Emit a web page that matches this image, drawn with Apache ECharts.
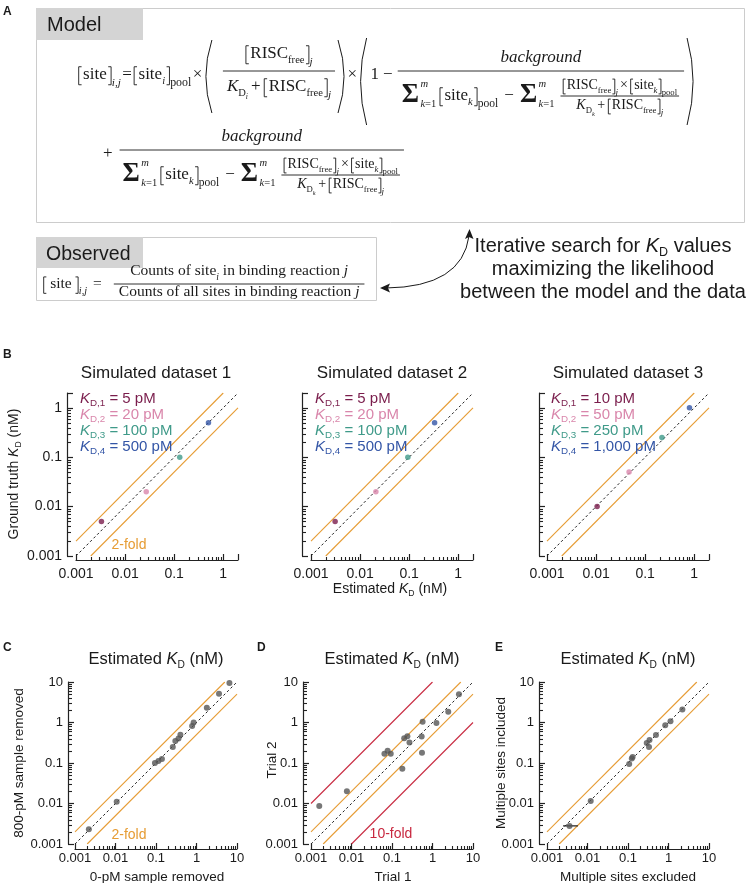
<!DOCTYPE html>
<html><head><meta charset="utf-8">
<script src="https://cdn.jsdelivr.net/npm/echarts@6/dist/echarts.min.js"></script>
<style>html,body{margin:0;padding:0;background:#fff}#c{width:747px;height:883px}</style>
</head><body><div id="c"></div>
<script>
// ---------------- data ----------------
const tickValues = [0.001, 0.01, 0.1, 1, 10];
const tickLabels = ['0.001', '0.01', '0.1', '1', '10'];
const minorMantissas = [2, 3, 4, 5, 6, 7, 8, 9];
const decades = [0.001, 0.01, 0.1, 1];
const siteSubs = ['D,1', 'D,2', 'D,3', 'D,4'];
const siteColors = ['#7a1d4c', '#d986ab', '#3f9a89', '#3355a6'];

const sim1Est = [0.0033, 0.027, 0.13, 0.5];
const sim1True = [0.005, 0.02, 0.1, 0.5];
const sim1Labels = ['5 pM', '20 pM', '100 pM', '500 pM'];
const sim2Est = [0.0031, 0.021, 0.094, 0.33];
const sim2True = [0.005, 0.02, 0.1, 0.5];
const sim2Labels = ['5 pM', '20 pM', '100 pM', '500 pM'];
const sim3Est = [0.0105, 0.047, 0.22, 0.8];
const sim3True = [0.01, 0.05, 0.25, 1.0];
const sim3Labels = ['10 pM', '50 pM', '250 pM', '1,000 pM'];

const cZeroRemoved = [0.0022, 0.0107, 0.094, 0.115, 0.14, 0.26, 0.3, 0.36, 0.4, 0.78, 0.85, 1.8, 3.6, 6.5];
const cHighRemoved = [0.0023, 0.011, 0.1, 0.112, 0.126, 0.25, 0.35, 0.4, 0.5, 0.82, 1.0, 2.3, 5.1, 9.5];
const dTrial1 = [0.0016, 0.0077, 0.065, 0.078, 0.093, 0.18, 0.2, 0.24, 0.27, 0.54, 0.57, 0.55, 1.25, 2.45, 4.5];
const dTrial2 = [0.0087, 0.02, 0.17, 0.2, 0.17, 0.072, 0.41, 0.46, 0.32, 0.45, 1.05, 0.18, 0.97, 1.85, 5.0];
const eExcluded = [0.0036, 0.012, 0.107, 0.124, 0.13, 0.29, 0.33, 0.34, 0.49, 0.83, 1.12, 2.2];
const eIncluded = [0.0028, 0.0115, 0.095, 0.13, 0.14, 0.31, 0.25, 0.37, 0.49, 0.85, 1.07, 2.1];
const eErrorBar = [[0.0025, 0.0028], [0.0058, 0.0028]];

const unityB = [[0.001, 0.001], [2, 2]];
const twoUpB = [[0.001, 0.002], [1, 2]];
const twoDnB = [[0.002, 0.001], [2, 1]];
const unityC = [[0.001, 0.001], [10, 10]];
const twoUpC = [[0.001, 0.002], [5, 10]];
const twoDnC = [[0.002, 0.001], [10, 5]];
const tenUp = [[0.001, 0.01], [1, 10]];
const tenDn = [[0.01, 0.001], [10, 1]];

// ---------------- style ----------------
const SERIF = '"Liberation Serif","Times New Roman",serif';
const SANS = '"Liberation Sans",Arial,Helvetica,sans-serif';
const INK = '#1a1a1a';
const AX = '#222222';
const ORANGE = '#e69c34';
const RED = '#c8283f';
const GRAYPT = '#555555';

// ---------------- tiny text layout helpers ----------------
const cv = document.createElement('canvas').getContext('2d');
function fnt(s, it, fam, wt) { return (it ? 'italic ' : '') + (wt || 'normal') + ' ' + s + 'px ' + fam; }
function mw(t, s, it, fam, wt) { cv.font = fnt(s, it, fam, wt); return cv.measureText(t).width; }
function txtEl(x, b, t, s, it, fam, wt, c) {
  return { type: 'text', x: x, y: b - 0.3 * s, silent: true, z: 10,
    style: { text: t, font: fnt(s, it, fam, wt), fill: c, textAlign: 'left', align: 'left', textVerticalAlign: 'middle', verticalAlign: 'middle' } };
}
function T(t, s, o) { o = o || {}; const fam = o.f || SERIF; const w = mw(t, s, o.i, fam, o.w);
  return { w, d(x, b, out) { out.push(txtEl(x, b, t, s, o.i, fam, o.w, o.c || INK)); } }; }
function Sp(w) { return { w, d() {} }; }
function R(...bs) { return { w: bs.reduce((a, b) => a + b.w, 0), d(x, b, out) { let cx = x; bs.forEach(bx => { bx.d(cx, b, out); cx += bx.w; }); } }; }
function Sh(bx, dy) { return { w: bx.w, d(x, b, out) { bx.d(x, b + dy, out); } }; }
function Scr(sup, sub, du, dd) { return { w: Math.max(sup.w, sub.w), d(x, b, out) { sup.d(x, b + du, out); sub.d(x, b + dd, out); } }; }
function Br(side, up, dn, s) { const w = Math.max(3.5, 0.3 * s);
  return { w, d(x, b, out) { const a = x + 0.7, c = x + w - 0.7, arm = Math.max(2.2, 0.17 * s);
    const pts = side === '[' ? [[a + arm, b - up], [a, b - up], [a, b + dn], [a + arm, b + dn]] : [[c - arm, b - up], [c, b - up], [c, b + dn], [c - arm, b + dn]];
    out.push({ type: 'polyline', silent: true, z: 10, shape: { points: pts }, style: { stroke: INK, lineWidth: 0.9, fill: null } }); } }; }
function Pa(side, up, dn) { const w = 10;
  return { w, d(x, b, out) { const y1 = b - up, y2 = b + dn, ym = (y1 + y2) / 2;
    const sh = side === '(' ? { x1: x + 8, y1, x2: x + 8, y2, cpx1: x - 4, cpy1: ym } : { x1: x + 2, y1, x2: x + 2, y2, cpx1: x + 14, cpy1: ym };
    out.push({ type: 'bezierCurve', silent: true, z: 10, shape: sh, style: { stroke: INK, lineWidth: 1, fill: null } }); } }; }
function Fr(num, den, ax, nu, dd, pad) { const w = Math.max(num.w, den.w) + 2 * pad;
  return { w, d(x, b, out) { const ly = b - ax;
    out.push({ type: 'line', silent: true, z: 10, shape: { x1: x + 1, y1: ly, x2: x + w - 1, y2: ly }, style: { stroke: INK, lineWidth: 0.9 } });
    num.d(x + (w - num.w) / 2, ly - nu, out); den.d(x + (w - den.w) / 2, ly + dd, out); } }; }

const G = [];
function place(box, x, b, align) { const x0 = align === 'center' ? x - box.w / 2 : align === 'right' ? x - box.w : x; box.d(x0, b, G); }
function placeRot(box, cx, cy, s) { const els = []; box.d(-box.w / 2, 0.3 * s, els); G.push({ type: 'group', x: cx, y: cy, rotation: Math.PI / 2, silent: true, children: els }); }

// math pieces
function bk(inner, s, sub, subDy) { const up = 0.78 * s, dn = 0.28 * s;
  const parts = [Br('[', up, dn, s), inner, Br(']', up, dn, s)];
  if (sub) parts.push(Sh(sub, subDy != null ? subDy : 0.36 * s));
  return R(...parts); }
function siteIdx(s, idx) { return R(T('site', s), Sh(T(idx, 0.62 * s, { i: 1 }), 0.24 * s)); }
function risc(s) { return R(T('RISC', s), Sh(T('free', 0.62 * s), 0.26 * s)); }
function kd(s, idx) { return R(T('K', s, { i: 1 }), Sh(T('D', 0.62 * s), 0.24 * s), Sh(T(idx, 0.45 * s, { i: 1 }), 0.44 * s)); }
function op(t, s, g) { return R(Sp(g), T(t, s), Sp(g)); }
function sigma(s) { return R(Sh(T('Σ', 1.55 * s, { w: 'bold' }), 0.1 * s), Sp(1.5),
  Scr(T('m', 0.62 * s, { i: 1 }), R(T('k', 0.62 * s, { i: 1 }), T('=1', 0.62 * s)), -0.82 * s, 0.38 * s)); }
function jSub(s) { return T('j', 0.66 * s, { i: 1 }); }
function ijSub(s) { return R(T('i', 0.66 * s, { i: 1 }), T(',', 0.66 * s), T('j', 0.66 * s, { i: 1 })); }
function bigDen(s, si) {
  const innerNum = R(bk(risc(si), si, jSub(si)), op('×', si, 2), bk(siteIdx(si, 'k'), si, T('pool', 0.62 * si)));
  const innerDen = R(kd(si, 'k'), op('+', si, 2.5), bk(risc(si), si, jSub(si)));
  return R(sigma(s), Sp(3), bk(siteIdx(s, 'k'), s, T('pool', 0.68 * s)), op('−', s, 6), sigma(s), Sp(5), Fr(innerNum, innerDen, 5, 6, 14, 3));
}

// ---------------- Panel A ----------------
G.push({ type: 'rect', silent: true, shape: { x: 36.5, y: 8.5, width: 708, height: 214 }, style: { fill: null, stroke: '#cccccc', lineWidth: 1 } });
G.push({ type: 'rect', silent: true, shape: { x: 36, y: 8, width: 107, height: 32 }, style: { fill: '#d4d4d4' } });
G.push({ type: 'rect', silent: true, shape: { x: 36.5, y: 237.5, width: 340, height: 63 }, style: { fill: null, stroke: '#cccccc', lineWidth: 1 } });
G.push({ type: 'rect', silent: true, shape: { x: 36, y: 237, width: 107, height: 31 }, style: { fill: '#d4d4d4' } });
place(T('Model', 20, { f: SANS }), 47, 31);
place(T('Observed', 19.5, { f: SANS }), 46, 260);

const S = 17;
const line1 = R(
  bk(T('site', S), S, ijSub(S)), op('=', S, 1.5),
  bk(siteIdx(S, 'i'), S, T('pool', 0.7 * S)), op('×', S, 1.5),
  Pa('(', 40, 33), Sp(8),
  Fr(bk(risc(S), S, jSub(S)), R(kd(S, 'i'), op('+', S, 3), bk(risc(S), S, jSub(S))), 9, 12, 21, 5),
  Pa(')', 40, 33), op('×', S, 1.5),
  Pa('(', 42, 45), Sp(2), T('1', S), op('−', S, 4),
  Fr(T('background', S, { i: 1 }), bigDen(S, 14), 9, 8, 30, 5),
  Pa(')', 42, 45)
);
place(line1, 78, 80);
const line2 = R(T('+', S), Sp(6), Fr(T('background', S, { i: 1 }), bigDen(S, 14), 9, 8, 30, 4));
place(line2, 103, 159);

const So = 15.5;
const obs = R(bk(R(Sp(2.5), T('site', So), Sp(2.5)), So, ijSub(So)), op('=', So, 6), Sp(5),
  Fr(R(T('Counts of site', So), Sh(T('i', 0.62 * So, { i: 1 }), 0.3 * So), T(' in binding reaction ', So), T('j', So, { i: 1 })),
     R(T('Counts of all sites in binding reaction ', So), T('j', So, { i: 1 })), 5, 8, 13, 6));
place(obs, 43, 289);

// arrow
G.push({ type: 'bezierCurve', silent: true, shape: { x1: 386, y1: 288, x2: 469, y2: 236, cpx1: 462, cpy1: 287 }, style: { stroke: INK, lineWidth: 1, fill: null } });
G.push({ type: 'polygon', silent: true, shape: { points: [[380, 288], [390, 283.5], [388, 288], [390, 292.5]] }, style: { fill: INK } });
G.push({ type: 'polygon', silent: true, shape: { points: [[469.5, 229], [465, 239], [469, 237], [473.5, 239]] }, style: { fill: INK } });

const FS = 20;
place(R(T('Iterative search for ', FS, { f: SANS }), T('K', FS, { f: SANS, i: 1 }), Sh(T('D', 12.5, { f: SANS }), 4), T(' values', FS, { f: SANS })), 603, 252, 'center');
place(T('maximizing the likelihood', FS, { f: SANS }), 603, 275, 'center');
place(T('between the model and the data', FS, { f: SANS }), 603, 298, 'center');

// panel letters
[['A', 3, 15], ['B', 3, 358], ['C', 3, 651], ['D', 257, 651], ['E', 495, 651]].forEach(p => place(T(p[0], 12, { f: SANS, w: 'bold' }), p[1], p[2]));

// ---------------- Panel B/C/D/E texts ----------------
function kdLabel(pre, s, post, c) { return R(T(pre, s, { f: SANS, c }), T('K', s, { f: SANS, i: 1, c }), Sh(T('D', 0.62 * s, { f: SANS, c }), 0.24 * s), T(post, s, { f: SANS, c })); }
place(T('Simulated dataset 1', 17, { f: SANS }), 156, 378, 'center');
place(T('Simulated dataset 2', 17, { f: SANS }), 392, 378, 'center');
place(T('Simulated dataset 3', 17, { f: SANS }), 628, 378, 'center');
placeRot(kdLabel('Ground truth ', 14, ' (nM)', INK), 14, 474, 14);
place(kdLabel('Estimated ', 14, ' (nM)', INK), 390, 593, 'center');
place(T('2-fold', 14, { f: SANS, c: ORANGE }), 129, 549, 'center');

[[80, sim1Labels], [315, sim2Labels], [551, sim3Labels]].forEach(([lx, labs]) => {
  labs.forEach((lab, i) => {
    const c = siteColors[i];
    place(R(T('K', 15, { f: SANS, i: 1, c }), Sh(T(siteSubs[i], 9.8, { f: SANS, c }), 3.6), T(' = ' + lab, 15, { f: SANS, c })), lx, 403 + 16 * i);
  });
});

[156, 392, 628].forEach(cx => place(kdLabel('Estimated ', 16.5, ' (nM)', INK), cx, 664, 'center'));
place(T('0-pM sample removed', 13.5, { f: SANS }), 157, 881, 'center');
place(T('Trial 1', 13.5, { f: SANS }), 393, 881, 'center');
place(T('Multiple sites excluded', 13.5, { f: SANS }), 628, 881, 'center');
placeRot(T('800-pM sample removed', 13.5, { f: SANS }), 19, 763, 13.5);
placeRot(T('Trial 2', 13.5, { f: SANS }), 272, 760, 13.5);
placeRot(T('Multiple sites included', 13.5, { f: SANS }), 501, 763, 13.5);
place(T('2-fold', 14, { f: SANS, c: ORANGE }), 129, 839, 'center');
place(T('10-fold', 14, { f: SANS, c: RED }), 391, 838, 'center');

// ---------------- charts ----------------
const gridsDef = [
  { left: 76, top: 393, width: 162, height: 163, max: 2, xOff: 4, yOff: 9, yLab: true, fs: 14, xm: 7, ym: 5 },
  { left: 311, top: 393, width: 162, height: 163, max: 2, xOff: 4, yOff: 9, yLab: false, fs: 14, xm: 7, ym: 5 },
  { left: 547, top: 393, width: 162, height: 163, max: 2, xOff: 4, yOff: 8, yLab: false, fs: 14, xm: 7, ym: 5 },
  { left: 75, top: 682, width: 162, height: 162, max: 10, xOff: 5, yOff: 7, yLab: true, fs: 13, xm: 3, ym: 5 },
  { left: 311, top: 682, width: 162, height: 162, max: 10, xOff: 5, yOff: 8, yLab: true, fs: 13, xm: 3, ym: 5 },
  { left: 547, top: 682, width: 162, height: 162, max: 10, xOff: 5, yOff: 8, yLab: true, fs: 13, xm: 3, ym: 5 }
];
function fmtTick(v) {
  const i = tickValues.findIndex(t => Math.abs(Math.log10(v) - Math.log10(t)) < 1e-6);
  return i >= 0 ? tickLabels[i] : '';
}
function axis(g, i, dim) {
  return {
    type: 'log', logBase: 10, gridIndex: i, min: 0.001, max: g.max,
    offset: dim === 'x' ? g.xOff : g.yOff,
    position: dim === 'x' ? 'bottom' : 'left',
    axisLine: { show: true, onZero: false, lineStyle: { color: AX, width: 1.2 } },
    axisTick: { show: true, inside: true, length: 6, lineStyle: { color: AX, width: 1.2 } },
    minorTick: { show: false },
    axisLabel: { show: dim === 'x' || g.yLab, formatter: fmtTick, color: INK, fontSize: g.fs, fontFamily: 'Liberation Sans, Arial, sans-serif',
      margin: dim === 'x' ? g.xm : g.ym, showMinLabel: true, showMaxLabel: true, hideOverlap: false },
    splitLine: { show: false }, minorSplitLine: { show: false }, silent: true
  };
}
function lineS(i, data, color, dashed, w) {
  return { type: 'line', xAxisIndex: i, yAxisIndex: i, data: data, symbol: 'none', showSymbol: false, silent: true, z: 2,
    lineStyle: { color: color, width: w || 1.1, type: dashed ? [2.5, 2.5] : 'solid' } };
}
function scatterS(i, xs, ys, colors, size) {
  return { type: 'scatter', xAxisIndex: i, yAxisIndex: i, symbolSize: size, silent: true, z: 5,
    data: xs.map((x, k) => ({ value: [x, ys[k]], itemStyle: { color: Array.isArray(colors) ? colors[k] : colors } })) };
}

const series = [];
[[sim1Est, sim1True], [sim2Est, sim2True], [sim3Est, sim3True]].forEach(([xs, ys], i) => {
  series.push(lineS(i, unityB, '#222', true, 1));
  series.push(lineS(i, twoUpB, ORANGE));
  series.push(lineS(i, twoDnB, ORANGE));
  series.push(scatterS(i, xs, ys, siteColors, 5.5));
});
[[cZeroRemoved, cHighRemoved], [dTrial1, dTrial2], [eExcluded, eIncluded]].forEach(([xs, ys], k) => {
  const i = k + 3;
  series.push(lineS(i, unityC, '#222', true, 1));
  series.push(lineS(i, twoUpC, ORANGE));
  series.push(lineS(i, twoDnC, ORANGE));
  if (k === 1) { series.push(lineS(i, tenUp, RED)); series.push(lineS(i, tenDn, RED)); }
  if (k === 2) { series.push(lineS(i, eErrorBar, '#222', false, 1.1)); }
  series.push(scatterS(i, xs, ys, GRAYPT, 6));
});

const chart = echarts.init(document.getElementById('c'), null, { renderer: 'canvas' });
chart.setOption({
  animation: false,
  backgroundColor: '#ffffff',
  grid: gridsDef.map(g => ({ left: g.left, top: g.top, width: g.width, height: g.height, containLabel: false, outerBoundsMode: 'none' })),
  xAxis: gridsDef.map((g, i) => axis(g, i, 'x')),
  yAxis: gridsDef.map((g, i) => axis(g, i, 'y')),
  series: series
});

// minor log ticks (2..9 x each decade), positioned through the axes' own scales
const minorEls = [];
gridsDef.forEach((g, i) => {
  const vals = [];
  decades.forEach(dc => minorMantissas.forEach(m => { const v = m * dc; if (v < g.max * 0.999) vals.push(v); }));
  const yBottom = chart.convertToPixel({ yAxisIndex: i }, 0.001);
  const xLeft = chart.convertToPixel({ xAxisIndex: i }, 0.001);
  const ay = Math.round(yBottom + g.xOff) + 0.5;
  const axx = Math.round(xLeft - g.yOff) + 0.5;
  vals.forEach(v => {
    const px = Math.round(chart.convertToPixel({ xAxisIndex: i }, v)) + 0.5;
    const py = Math.round(chart.convertToPixel({ yAxisIndex: i }, v)) + 0.5;
    minorEls.push({ type: 'line', silent: true, z: 5, shape: { x1: px, y1: ay, x2: px, y2: ay - 3.5 }, style: { stroke: AX, lineWidth: 1.1 } });
    minorEls.push({ type: 'line', silent: true, z: 5, shape: { x1: axx, y1: py, x2: axx + 3.5, y2: py }, style: { stroke: AX, lineWidth: 1.1 } });
  });
});
chart.setOption({ graphic: { elements: G.concat(minorEls) } });
</script>
</body></html>
